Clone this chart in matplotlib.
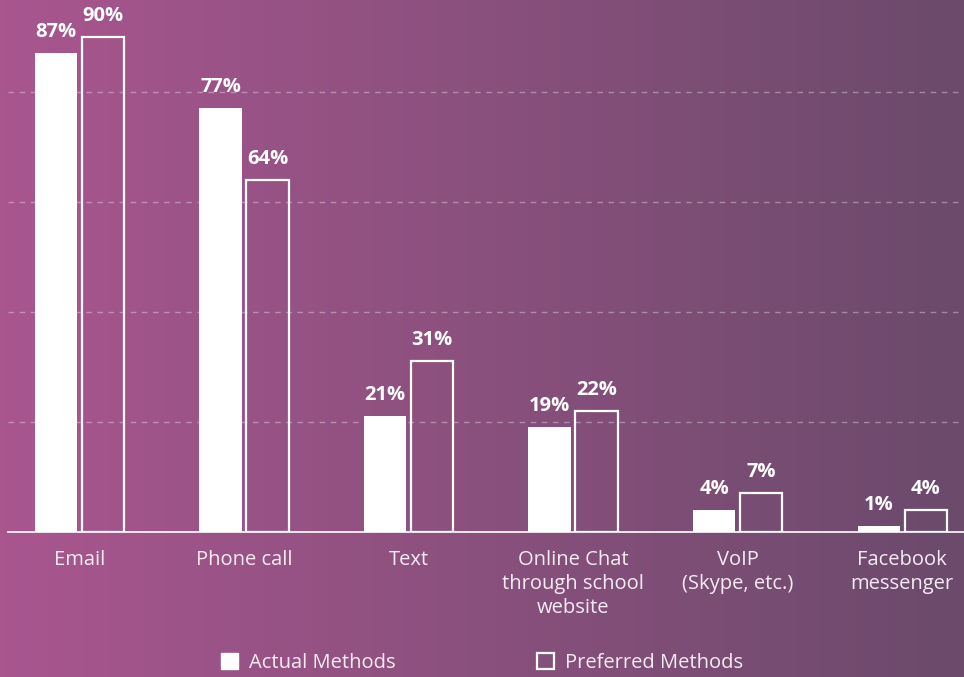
import numpy as np
import matplotlib
matplotlib.use("Agg")
import matplotlib.pyplot as plt
from matplotlib.patches import Patch
from matplotlib.colors import LinearSegmentedColormap

categories = ["Email", "Phone call", "Text", "Online Chat\nthrough school\nwebsite",
              "VoIP\n(Skype, etc.)", "Facebook\nmessenger"]
actual = [87, 77, 21, 19, 4, 1]
preferred = [90, 64, 31, 22, 7, 4]

plt.rcParams['font.family'] = ['Open Sans', 'DejaVu Sans']

fig = plt.figure(figsize=(9.64, 6.77), dpi=100)

# background gradient
bg = fig.add_axes([0, 0, 1, 1])
cmap = LinearSegmentedColormap.from_list("bg", ["#a9568f", "#6b4a6c"])
bg.imshow(np.linspace(0, 1, 256).reshape(1, -1), aspect='auto', cmap=cmap,
          extent=[0, 1, 0, 1])
bg.axis('off')

ax = fig.add_axes([8 / 964, 1 - 532 / 677, 1 - 8 / 964, 532 / 677])
ax.patch.set_alpha(0)

x = np.arange(len(categories))
w = 0.258
off = 0.143

ax.bar(x - off, actual, w, color='white', zorder=3)
ax.bar(x + off, preferred, w, facecolor='none', edgecolor='white', linewidth=1.6, zorder=3)

for xi, v in zip(x - off, actual):
    ax.annotate(f"{v}%", (xi, v), xytext=(0, 8), textcoords='offset points',
                ha='center', va='bottom', color='white', fontsize=14.5, fontweight='bold')
for xi, v in zip(x + off, preferred):
    ax.annotate(f"{v}%", (xi, v), xytext=(0, 8), textcoords='offset points',
                ha='center', va='bottom', color='white', fontsize=14.5, fontweight='bold')

ax.set_xlim(-0.434, 5.375)
ax.set_ylim(0, 96.7)
ax.set_yticks([20, 40, 60, 80])
ax.yaxis.grid(True, linestyle=(0, (4, 4)), color='white', alpha=0.35, linewidth=1)
ax.set_axisbelow(True)
ax.tick_params(axis='y', left=False, labelleft=False)
ax.set_xticks(x)
ax.set_xticklabels(categories, color='#f5ecf3', fontsize=14.5, linespacing=1.25)
ax.tick_params(axis='x', length=0, pad=13)
for s in ['top', 'right', 'left']:
    ax.spines[s].set_visible(False)
ax.spines['bottom'].set_color('white')
ax.spines['bottom'].set_linewidth(1.2)

handles = [Patch(facecolor='white', edgecolor='white'),
           Patch(facecolor='none', edgecolor='white', linewidth=1.6)]
leg = fig.legend(handles, ["Actual Methods", "Preferred Methods"], loc='center',
                 bbox_to_anchor=(0.5, 1 - 663 / 677), ncol=2, frameon=False,
                 fontsize=14.5, handlelength=0.85, handleheight=0.85, handletextpad=0.55,
                 columnspacing=7.0)
for t in leg.get_texts():
    t.set_color('#f5ecf3')

fig.savefig("out.png", dpi=100)
